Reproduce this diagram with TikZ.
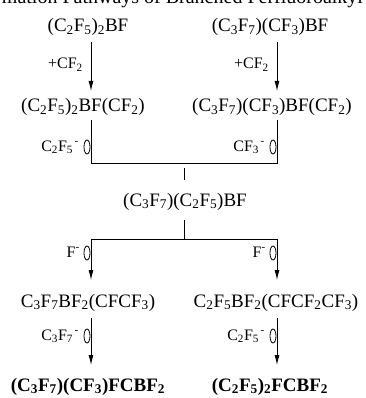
\documentclass[tikz,border=0pt]{standalone}
\usepackage{fontspec}
\setmainfont{Liberation Serif}
\usetikzlibrary{arrows.meta}
\newcommand{\sbs}[1]{\textsubscript{#1}}
\newcommand{\ion}{\kern1.5pt\textsuperscript{-}}
\tikzset{
  chem/.style={inner sep=0pt, anchor=base, font=\fontsize{19}{22}\selectfont},
  chemb/.style={inner sep=0pt, anchor=base, font=\fontsize{19}{22}\selectfont\bfseries},
  lbl/.style={inner sep=0pt, anchor=base east, font=\fontsize{16}{19}\selectfont},
  ttl/.style={inner sep=0pt, anchor=base west, font=\fontsize{20}{24}\selectfont},
  rxn/.style={line width=0.9pt, -{Latex[length=10pt,width=5pt]}},
  brk/.style={line width=0.9pt},
  loop/.style={line width=0.8pt},
}
\begin{document}
\begin{tikzpicture}[x=1pt,y=-1pt]
\useasboundingbox (0,0) rectangle (365,398);
\begin{scope}
\clip (0,0) rectangle (365,398);
\node[ttl] (title) at (-26,3.5) {Formation Pathways of Branched Perfluoroalkyl Boranes};
\end{scope}
% row 1
\node[chem] (r1L) at (88,32) {(C\sbs{2}F\sbs{5})\sbs{2}BF};
\node[chem] (r1R) at (270,32) {(C\sbs{3}F\sbs{7})(CF\sbs{3})BF};
\coordinate (a1s) at (91,42); \coordinate (a1e) at (91,91);
\coordinate (a2s) at (277,42); \coordinate (a2e) at (277,91);
\draw[rxn] (a1s) -- (a1e);
\draw[rxn] (a2s) -- (a2e);
\node[lbl] (l1) at (83,69) {+CF\sbs{2}};
\node[lbl] (l2) at (269,69) {+CF\sbs{2}};
% row 2
\node[chem] (r2L) at (83,112) {(C\sbs{2}F\sbs{5})\sbs{2}BF(CF\sbs{2})};
\node[chem] (r2R) at (272,112) {(C\sbs{3}F\sbs{7})(CF\sbs{3})BF(CF\sbs{2})};
\coordinate (b1a) at (91,120); \coordinate (b1b) at (91,163);
\coordinate (b1c) at (277,163); \coordinate (b1d) at (277,120);
\draw[brk] (b1a) -- (b1b) -- (b1c) -- (b1d);
\draw[loop] (87,147) ellipse (3 and 7);
\draw[loop] (273,147) ellipse (3 and 7);
\node[lbl] (l3) at (79,151) {C\sbs{2}F\sbs{5}\ion};
\node[lbl] (l4) at (265,151) {CF\sbs{3}\ion};
\coordinate (t1a) at (184,168); \coordinate (t1b) at (184,180);
\draw[brk] (t1a) -- (t1b);
% row 3
\node[chem] (r3) at (185,206) {(C\sbs{3}F\sbs{7})(C\sbs{2}F\sbs{5})BF};
\coordinate (t2a) at (184,220); \coordinate (t2b) at (184,239);
\draw[brk] (t2a) -- (t2b);
\coordinate (b2a) at (91,280); \coordinate (b2b) at (91,239);
\coordinate (b2c) at (277,239); \coordinate (b2d) at (277,280);
\draw[brk] (b2b) -- (b2c);
\draw[rxn] (b2b) -- (b2a);
\draw[rxn] (b2c) -- (b2d);
\draw[loop] (87,253) ellipse (3 and 7);
\draw[loop] (273,253) ellipse (3 and 7);
\node[lbl] (l5) at (80,257) {F\textsuperscript{-}};
\node[lbl] (l6) at (266,257) {F\textsuperscript{-}};
% row 4
\node[chem] (r4L) at (88,307) {C\sbs{3}F\sbs{7}BF\sbs{2}(CFCF\sbs{3})};
\node[chem] (r4R) at (276,307) {C\sbs{2}F\sbs{5}BF\sbs{2}(CFCF\sbs{2}CF\sbs{3})};
\coordinate (a3s) at (91,318); \coordinate (a3e) at (91,365);
\coordinate (a4s) at (277,318); \coordinate (a4e) at (277,365);
\draw[rxn] (a3s) -- (a3e);
\draw[rxn] (a4s) -- (a4e);
\draw[loop] (87,336) ellipse (3 and 7);
\draw[loop] (273,336) ellipse (3 and 7);
\node[lbl] (l7) at (79,340) {C\sbs{3}F\sbs{7}\ion};
\node[lbl] (l8) at (265,340) {C\sbs{2}F\sbs{5}\ion};
% row 5
\node[chemb] (r5L) at (88,391) {(C\sbs{3}F\sbs{7})(CF\sbs{3})FCBF\sbs{2}};
\node[chemb] (r5R) at (270,391) {(C\sbs{2}F\sbs{5})\sbs{2}FCBF\sbs{2}};
\end{tikzpicture}
\end{document}
